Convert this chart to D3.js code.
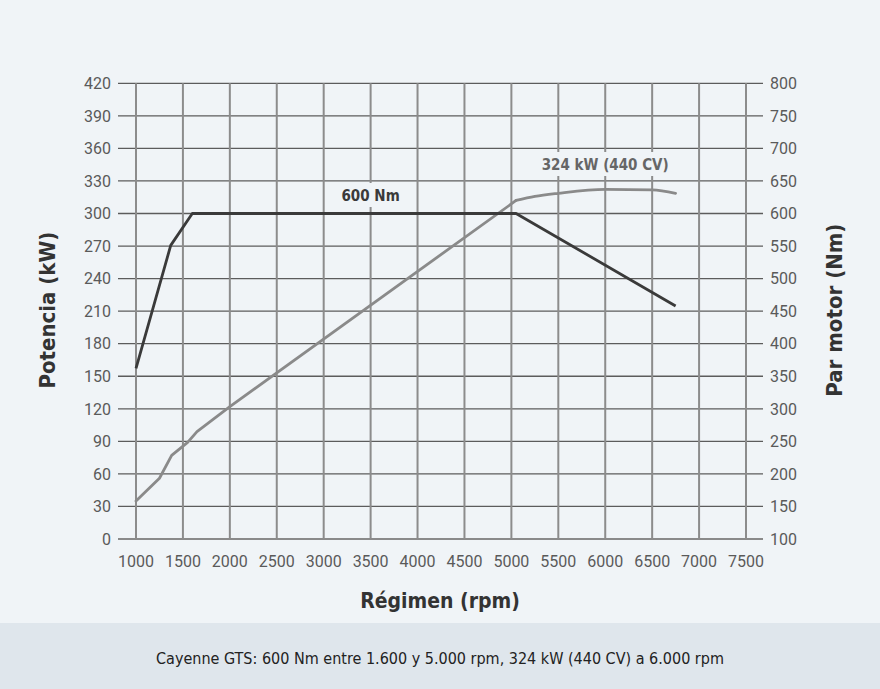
<!DOCTYPE html>
<html>
<head>
<meta charset="utf-8">
<script src="https://cdn.jsdelivr.net/npm/d3@7/dist/d3.min.js"></script>
<style>
  html, body { margin: 0; padding: 0; background: #f0f4f7; }
  svg { display: block; }
  .tick-label { font-family: Roboto, "Noto Sans", sans-serif; font-size: 16px; fill: #5a5a5a; }
  .cond { font-family: "Liberation Sans Narrow", "DejaVu Sans Condensed", "Roboto", sans-serif; font-stretch: condensed; }
</style>
</head>
<body>
<div id="chart"></div>
<script>
// ---- data ----
const rpmTicks = [1000, 1500, 2000, 2500, 3000, 3500, 4000, 4500, 5000, 5500, 6000, 6500, 7000, 7500];
const powerTicks = [0, 30, 60, 90, 120, 150, 180, 210, 240, 270, 300, 330, 360, 390, 420];
const torqueTicks = [100, 150, 200, 250, 300, 350, 400, 450, 500, 550, 600, 650, 700, 750, 800];

const torqueRpm = [1000, 1370, 1600, 5050, 6750];
const torqueNm  = [362, 551, 600, 600, 458];

// power: straight rising part, then rounded top
const powerRpm = [1000, 1250, 1380, 1550, 1650, 2000, 5050];
const powerKw  = [35, 56, 77, 89, 99, 122, 312];
const powerTopRpm = [5050, 5250, 5500, 6000, 6500, 6750];
const powerTopKw  = [312, 315.7, 318.6, 322.3, 321.7, 318.6];

const torqueLabel = "600 Nm";
const powerLabel = "324 kW (440 CV)";
const xTitle = "Régimen (rpm)";
const yLeftTitle = "Potencia (kW)";
const yRightTitle = "Par motor (Nm)";
const footer = "Cayenne GTS: 600 Nm entre 1.600 y 5.000 rpm, 324 kW (440 CV) a 6.000 rpm";

// ---- layout ----
const W = 880, H = 689;
const svg = d3.select("#chart").append("svg").attr("width", W).attr("height", H);

svg.append("rect").attr("width", W).attr("height", H).attr("fill", "#f0f4f7");
svg.append("rect").attr("x", 0).attr("y", 623).attr("width", W).attr("height", H - 623).attr("fill", "#dfe6ec");

const x = d3.scaleLinear().domain([1000, 7500]).range([136, 746]);
const yL = d3.scaleLinear().domain([0, 420]).range([539, 83.3]);
const yR = d3.scaleLinear().domain([100, 800]).range([539, 83.3]);

const g = svg.append("g");

// horizontal grid lines (with ticks on both sides)
g.selectAll("line.h").data(powerTicks).enter().append("line")
  .attr("x1", 118).attr("x2", 763)
  .attr("y1", d => yL(d)).attr("y2", d => yL(d))
  .attr("stroke", d => d === 0 ? "#8a8a8a" : "#5c5c5c")
  .attr("stroke-width", d => d === 0 ? 2 : 1.3);

// vertical grid lines
g.selectAll("line.v").data(rpmTicks).enter().append("line")
  .attr("x1", d => x(d)).attr("x2", d => x(d))
  .attr("y1", yL(420)).attr("y2", yL(0))
  .attr("stroke", "#8c8c8c").attr("stroke-width", 2);

// left tick labels
g.selectAll("text.yl").data(powerTicks).enter().append("text")
  .attr("class", "tick-label")
  .attr("x", 111).attr("y", d => yL(d)).attr("dy", "0.36em")
  .attr("text-anchor", "end").text(d => d);

// right tick labels
g.selectAll("text.yr").data(torqueTicks).enter().append("text")
  .attr("class", "tick-label")
  .attr("x", 770).attr("y", d => yR(d)).attr("dy", "0.36em")
  .attr("text-anchor", "start").text(d => d);

// bottom tick labels
g.selectAll("text.xl").data(rpmTicks).enter().append("text")
  .attr("class", "tick-label")
  .attr("x", d => x(d)).attr("y", 567)
  .attr("text-anchor", "middle").text(d => d);

// label with background box that hides the grid
function labelWithBg(txt, cx, baseline, color) {
  const t = svg.append("text").attr("class", "cond")
    .attr("x", cx).attr("y", baseline)
    .attr("text-anchor", "middle")
    .attr("font-size", 15).attr("font-weight", "bold")
    .attr("fill", color).text(txt);
  const bb = t.node().getBBox();
  svg.insert("rect", () => t.node())
    .attr("x", bb.x - 6).attr("y", baseline - 18)
    .attr("width", bb.width + 12).attr("height", 24)
    .attr("fill", "#f0f4f7");
  return t;
}

// lines
const lineT = d3.line().x(d => x(d[0])).y(d => yR(d[1]));
const lineP = d3.line().x(d => x(d[0])).y(d => yL(d[1]));
const lineTop = d3.line().x(d => x(d[0])).y(d => yL(d[1])).curve(d3.curveMonotoneX);

svg.append("path")
  .datum(powerRpm.map((r, i) => [r, powerKw[i]]))
  .attr("d", lineP).attr("fill", "none")
  .attr("stroke", "#8a8a8a").attr("stroke-width", 2.8)
  .attr("stroke-linejoin", "round").attr("stroke-linecap", "round");

svg.append("path")
  .datum(powerTopRpm.map((r, i) => [r, powerTopKw[i]]))
  .attr("d", lineTop).attr("fill", "none")
  .attr("stroke", "#8a8a8a").attr("stroke-width", 2.8)
  .attr("stroke-linejoin", "round").attr("stroke-linecap", "round");

svg.append("path")
  .datum(torqueRpm.map((r, i) => [r, torqueNm[i]]))
  .attr("d", lineT).attr("fill", "none")
  .attr("stroke", "#3a3a3a").attr("stroke-width", 2.8)
  .attr("stroke-linejoin", "round");

labelWithBg(torqueLabel, x(3500), 201, "#3a3a3a");
labelWithBg(powerLabel, x(6000), 170, "#666666");

// axis titles
svg.append("text").attr("class", "cond")
  .attr("transform", `translate(55, ${yL(210) - 1}) rotate(-90)`)
  .attr("text-anchor", "middle")
  .attr("font-size", 22).attr("font-weight", "bold").attr("fill", "#333")
  .text(yLeftTitle);

svg.append("text").attr("class", "cond")
  .attr("transform", `translate(842, ${yL(210) - 1}) rotate(-90)`)
  .attr("text-anchor", "middle")
  .attr("font-size", 22).attr("font-weight", "bold").attr("fill", "#333")
  .text(yRightTitle);

svg.append("text").attr("class", "cond")
  .attr("x", 440).attr("y", 608)
  .attr("text-anchor", "middle")
  .attr("font-size", 21).attr("font-weight", "bold").attr("fill", "#333")
  .text(xTitle);

svg.append("text").attr("class", "cond")
  .attr("x", 440).attr("y", 664)
  .attr("text-anchor", "middle")
  .attr("font-size", 16).attr("fill", "#222")
  .text(footer);
</script>
</body>
</html>
